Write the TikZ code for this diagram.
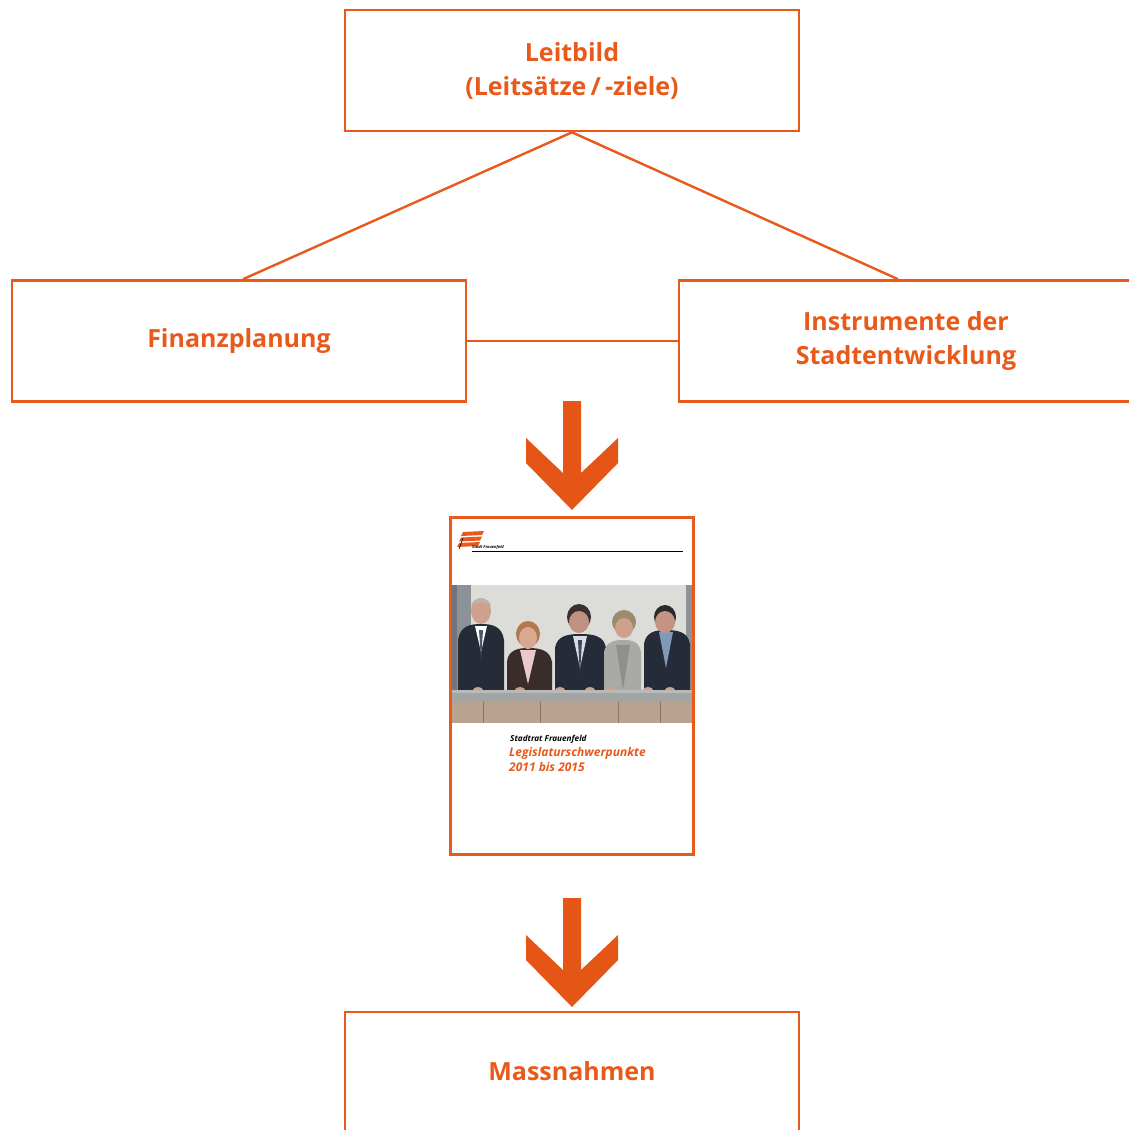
\documentclass[tikz,border=0pt]{standalone}
\usepackage{fontspec}
\setmainfont{Open Sans}
\definecolor{org}{HTML}{E8591A}
\definecolor{arr}{HTML}{E55515}
\definecolor{suit}{HTML}{262B38}
\definecolor{skin}{HTML}{CFA08C}
\definecolor{bgph}{HTML}{DCDCD8}
\definecolor{pill}{HTML}{8C9398}
\definecolor{pilld}{HTML}{6E757B}
\definecolor{tiea}{HTML}{4A5570}
\definecolor{haira}{HTML}{B8B4AE}
\definecolor{suitb}{HTML}{3A2C2A}
\definecolor{pink}{HTML}{E9C9CD}
\definecolor{hairb}{HTML}{B07A4E}
\definecolor{skinb}{HTML}{D8A890}
\definecolor{shirtc}{HTML}{DADDE6}
\definecolor{tiec}{HTML}{404858}
\definecolor{hairc}{HTML}{3A3030}
\definecolor{skinc}{HTML}{C09080}
\definecolor{jackd}{HTML}{A9A9A6}
\definecolor{jackdd}{HTML}{8F8F8C}
\definecolor{haird}{HTML}{9A8A6E}
\definecolor{shirte}{HTML}{7F9AB8}
\definecolor{haire}{HTML}{2A2A2A}
\definecolor{skine}{HTML}{C49482}
\definecolor{rail}{HTML}{A3A4A4}
\definecolor{railt}{HTML}{B8B9B9}
\definecolor{wall}{HTML}{B9A38F}
\definecolor{walll}{HTML}{8A7666}
\begin{document}
\begin{tikzpicture}[x=1pt,y=-1pt]
\useasboundingbox (0,0) rectangle (1128,1130);
\tikzset{
  box/.style={draw=org, line width=2.6pt, minimum width=454pt, minimum height=121pt, inner sep=0pt, align=center, text=org, font=\bfseries\fontsize{25}{34}\selectfont},
  link/.style={draw=org, line width=2.4pt},
  bigarrow/.style={fill=arr},
  covertext/.style={anchor=base west, inner sep=0pt, font=\bfseries\itshape\fontsize{12}{15}\selectfont, text=org}
}
% boxes
\node[box] (top) at (572,70.5) {Leitbild\\(Leitsätze\,/\,-ziele)};
\node[box] (fin) at (239,341) {\raisebox{2pt}{Finanzplanung}};
\node[box] (ins) at (906,341) {Instrumente der\\Stadtentwicklung};
\node[box] (mass) at (572,1072.5) {\raisebox{3pt}{Massnahmen}};
% connectors
\draw[link] (top.south) -- ([xshift=4pt]fin.north);
\draw[link] (top.south) -- ([xshift=-8pt]ins.north);
\draw[link] (fin.east) -- (ins.west);
% arrows
\fill[bigarrow] (563,401) -- (581,401) -- (581,473) -- (618,438) -- (618,463) -- (572,510) -- (526,463) -- (526,438) -- (563,473) -- cycle;
\begin{scope}[shift={(0,497)}]
\fill[bigarrow] (563,401) -- (581,401) -- (581,473) -- (618,438) -- (618,463) -- (572,510) -- (526,463) -- (526,438) -- (563,473) -- cycle;
\end{scope}
% cover
\fill[white] (451,518) rectangle (693,854);
% photo
\fill[bgph] (452,585) rectangle (692,723);
\fill[pill] (452,585) rectangle (471,700);
\fill[pilld] (452,585) rectangle (457,700);
\fill[pill] (686,585) rectangle (692,700);
% person 1
\fill[suit] (458,640) .. controls (460,626) and (470,624) .. (481,624) .. controls (492,624) and (502,626) .. (504,640) -- (504,696) -- (458,696) -- cycle;
\fill[white] (475,626) -- (487,626) -- (481,652) -- cycle;
\fill[tiea] (479,630) -- (483,630) -- (481,660) -- cycle;
\fill[skin] (481,611) ellipse [x radius=10, y radius=13];
\fill[haira] (471,606) .. controls (472,596) and (490,596) .. (491,606) .. controls (485,601) and (477,601) .. (471,606) -- cycle;
% person 2
\fill[suitb] (507,662) .. controls (508,650) and (518,648) .. (528,648) .. controls (540,648) and (550,650) .. (552,662) -- (552,696) -- (507,696) -- cycle;
\fill[pink] (520,650) -- (536,650) -- (528,684) -- cycle;
\fill[hairb] (528,634) ellipse [x radius=12, y radius=13];
\fill[skinb] (528,638) ellipse [x radius=9, y radius=11];
% person 3
\fill[suit] (555,648) .. controls (557,636) and (567,634) .. (580,634) .. controls (594,634) and (604,636) .. (606,648) -- (606,696) -- (555,696) -- cycle;
\fill[shirtc] (573,636) -- (587,636) -- (580,668) -- cycle;
\fill[tiec] (578,640) -- (582,640) -- (580,675) -- cycle;
\fill[hairc] (579,617) ellipse [x radius=12, y radius=13];
\fill[skinc] (579,622) ellipse [x radius=10, y radius=11];
% person 4
\fill[jackd] (604,652) .. controls (606,642) and (614,640) .. (623,640) .. controls (633,640) and (639,642) .. (641,652) -- (641,696) -- (604,696) -- cycle;
\fill[jackdd] (616,645) -- (630,645) -- (623,690) -- cycle;
\fill[haird] (624,622) ellipse [x radius=12, y radius=12];
\fill[skin] (624,628) ellipse [x radius=9, y radius=10];
% person 5
\fill[suit] (644,644) .. controls (646,632) and (655,630) .. (666,630) .. controls (678,630) and (688,632) .. (690,644) -- (690,696) -- (644,696) -- cycle;
\fill[shirte] (659,632) -- (673,632) -- (666,668) -- cycle;
\fill[haire] (665,617) ellipse [x radius=11, y radius=12];
\fill[skine] (665,622) ellipse [x radius=10, y radius=11];
% hands
\foreach \hx in {478,520,560,590,612,648,670} {\fill[skin] (\hx,690) ellipse [x radius=5, y radius=3];}
% railing and wall
\fill[rail] (452,692) rectangle (692,702);
\fill[railt] (452,690) rectangle (692,693);
\fill[wall] (452,702) rectangle (692,723);
\foreach \wx in {483,540,618,660} {\draw[walll, line width=1pt] (\wx,702) -- (\wx,723);}
% logo
\foreach \i in {0,1,2} {
  \fill[org] (463-2*\i,532+5.5*\i) -- (484-2*\i,531+5.5*\i) -- (482-2*\i,535+5.5*\i) -- (461-2*\i,536+5.5*\i) -- cycle;
}
\draw[black, line width=0.6pt] (459,549) -- (463,538);
\node[anchor=base west, inner sep=0pt, font=\bfseries\itshape\fontsize{4}{5}\selectfont] (sf) at (472,548) {Stadt Frauenfeld};
\draw[black, line width=0.8pt] (472,551) -- (683,551);
% cover texts
\node[anchor=base west, inner sep=0pt, font=\bfseries\itshape\fontsize{8.2}{9}\selectfont] (sr) at (510,741) {Stadtrat Frauenfeld};
\node[covertext] (leg) at (509,756) {Legislaturschwerpunkte};
\node[covertext] (yrs) at (509,771) {2011 bis 2015};
% cover border
\node[draw=org, line width=2.4pt, minimum width=243pt, minimum height=337pt, inner sep=0pt] (cover) at (572,686) {};
\end{tikzpicture}
\end{document}
